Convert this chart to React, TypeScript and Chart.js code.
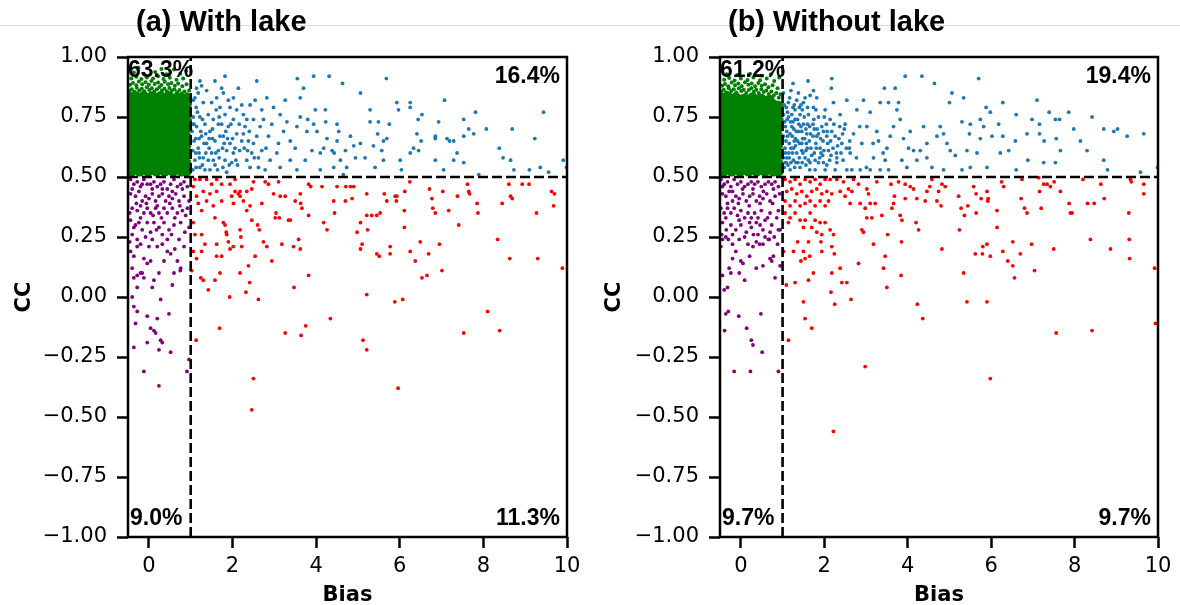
import React, { useEffect, useRef } from 'react';
import { Chart, registerables } from 'chart.js';

Chart.register(...registerables);

type P = [number, number];

const xTicks = [0, 2, 4, 6, 8, 10];
const yTicks = [-1, -0.75, -0.5, -0.25, 0, 0.25, 0.5, 0.75, 1];
const xMin = -0.5;
const xMax = 10;
const yMin = -1;
const yMax = 1;
const biasThreshold = 1;
const ccThreshold = 0.5;

const titles = ['(a) With lake', '(b) Without lake'];
// order: top-left, top-right, bottom-left, bottom-right
const pctA = ['63.3%', '16.4%', '9.0%', '11.3%'];
const pctB = ['61.2%', '19.4%', '9.7%', '9.7%'];

// ---------- Panel (a): With lake ----------
const greenCoreA: P[] = [
  [-0.42, 0.525], [-0.22, 0.525], [-0.02, 0.525], [0.18, 0.525], [0.38, 0.525], [0.58, 0.525], [0.78, 0.525], [0.9, 0.525],
  [-0.48, 0.56], [-0.32, 0.56], [-0.12, 0.56], [0.08, 0.56], [0.28, 0.56], [0.48, 0.56], [0.68, 0.56], [0.88, 0.56],
  [-0.42, 0.595], [-0.22, 0.595], [-0.02, 0.595], [0.18, 0.595], [0.38, 0.595], [0.58, 0.595], [0.78, 0.595], [0.9, 0.595],
  [-0.48, 0.63], [-0.32, 0.63], [-0.12, 0.63], [0.08, 0.63], [0.28, 0.63], [0.48, 0.63], [0.68, 0.63], [0.88, 0.63],
  [-0.42, 0.665], [-0.22, 0.665], [-0.02, 0.665], [0.18, 0.665], [0.38, 0.665], [0.58, 0.665], [0.78, 0.665], [0.9, 0.665],
  [-0.48, 0.7], [-0.32, 0.7], [-0.12, 0.7], [0.08, 0.7], [0.28, 0.7], [0.48, 0.7], [0.68, 0.7], [0.88, 0.7],
  [-0.42, 0.735], [-0.22, 0.735], [-0.02, 0.735], [0.18, 0.735], [0.38, 0.735], [0.58, 0.735], [0.78, 0.735], [0.9, 0.735],
  [-0.48, 0.77], [-0.32, 0.77], [-0.12, 0.77], [0.08, 0.77], [0.28, 0.77], [0.48, 0.77], [0.68, 0.77], [0.88, 0.77],
  [-0.42, 0.805], [-0.22, 0.805], [-0.02, 0.805], [0.18, 0.805], [0.38, 0.805], [0.58, 0.805], [0.78, 0.805], [0.9, 0.805],
  [-0.48, 0.835], [-0.32, 0.835], [-0.12, 0.835], [0.08, 0.835], [0.28, 0.835], [0.48, 0.835], [0.68, 0.83], [0.88, 0.825],
];
const greenEdgeA: P[] = [
  [-0.47, 0.858], [-0.41, 0.866], [-0.35, 0.855], [-0.29, 0.872], [-0.23, 0.86], [-0.17, 0.868], [-0.11, 0.857], [-0.05, 0.874],
  [0.01, 0.862], [0.07, 0.87], [0.13, 0.856], [0.19, 0.866], [0.25, 0.875], [0.31, 0.86], [0.37, 0.868], [0.43, 0.857],
  [0.49, 0.871], [0.55, 0.86], [0.61, 0.866], [0.67, 0.853], [0.73, 0.862], [0.79, 0.848], [0.85, 0.856], [0.92, 0.845],
  [0.96, 0.86],
  [-0.45, 0.884], [-0.38, 0.892], [-0.3, 0.882], [-0.24, 0.898], [-0.16, 0.886], [-0.08, 0.895], [0.0, 0.884], [0.06, 0.9],
  [0.14, 0.888], [0.22, 0.894], [0.3, 0.883], [0.38, 0.897], [0.46, 0.886], [0.54, 0.892], [0.62, 0.88], [0.7, 0.89],
  [0.8, 0.878], [0.9, 0.886],
  [-0.42, 0.91], [-0.3, 0.918], [-0.18, 0.908], [-0.05, 0.915], [0.1, 0.91], [0.22, 0.92], [0.35, 0.908], [0.5, 0.914],
  [0.66, 0.905], [0.82, 0.91],
  [-0.36, 0.935], [-0.12, 0.93], [0.15, 0.938], [0.42, 0.928], [0.75, 0.93], [0.89, 0.942],
  [-0.25, 0.955], [0.3, 0.95], [0.6, 0.948],
];
const blueA: P[] = [
  [1.82, 0.92], [1.58, 0.9], [1.22, 0.9], [2.58, 0.9], [3.55, 0.91], [3.94, 0.92], [4.31, 0.92], [4.63, 0.89], [5.68, 0.91],
  [5.06, 0.85], [3.7, 0.87], [3.62, 0.83], [5.93, 0.81], [6.25, 0.81], [6.25, 0.79], [5.97, 0.78], [7.07, 0.82], [7.81, 0.77],
  [9.44, 0.77], [5.29, 0.78], [5.29, 0.73], [5.49, 0.73], [5.75, 0.72], [6.53, 0.76], [6.44, 0.74], [6.93, 0.73], [7.53, 0.74],
  [7.65, 0.7], [8.07, 0.7], [7.77, 0.68], [8.69, 0.7], [9.23, 0.66], [8.38, 0.62], [8.47, 0.58], [8.65, 0.57], [8.73, 0.53],
  [9.1, 0.53], [9.36, 0.54], [9.56, 0.52], [9.91, 0.57], [9.99, 0.54], [7.19, 0.65], [7.29, 0.65], [7.37, 0.6], [7.13, 0.66],
  [6.85, 0.67], [6.85, 0.66], [6.85, 0.57], [7.29, 0.57], [7.53, 0.67], [7.53, 0.56], [7.05, 0.53], [7.89, 0.51], [6.51, 0.65],
  [6.41, 0.68], [6.33, 0.62], [6.45, 0.61], [6.25, 0.6], [6.01, 0.57], [6.04, 0.53], [5.69, 0.66], [5.61, 0.65], [5.57, 0.61],
  [5.61, 0.57], [5.47, 0.68], [5.37, 0.63], [5.41, 0.54], [5.17, 0.58], [5.06, 0.64], [4.9, 0.63], [4.82, 0.67], [4.94, 0.58],
  [4.7, 0.61], [4.54, 0.69], [4.5, 0.65], [4.43, 0.6], [4.38, 0.61], [4.26, 0.66], [4.23, 0.73], [4.22, 0.78], [4.5, 0.72],
  [4.58, 0.57], [4.65, 0.51], [4.73, 0.54], [4.42, 0.54], [4.1, 0.6], [4.02, 0.69], [3.98, 0.78], [3.94, 0.72], [3.9, 0.61],
  [3.78, 0.69], [3.8, 0.74], [3.62, 0.75], [3.54, 0.71], [3.5, 0.62], [3.38, 0.65], [3.26, 0.82], [3.3, 0.73], [3.38, 0.57],
  [3.22, 0.69], [3.14, 0.76], [3.1, 0.64], [3.06, 0.6], [2.98, 0.79], [2.94, 0.72], [2.86, 0.67], [2.9, 0.57], [2.82, 0.83],
  [2.7, 0.78], [2.66, 0.71], [2.7, 0.61], [2.62, 0.54], [2.54, 0.82], [2.5, 0.74], [2.42, 0.8], [2.38, 0.65], [2.34, 0.57],
  [2.3, 0.71], [2.26, 0.76], [2.17, 0.61], [2.14, 0.87], [2.1, 0.68], [2.02, 0.83], [2.02, 0.74], [1.98, 0.56], [1.94, 0.64],
  [1.94, 0.79], [1.9, 0.71], [1.86, 0.61], [1.82, 0.76], [1.78, 0.85], [1.78, 0.67], [1.77, 0.54], [1.7, 0.79], [1.66, 0.72],
  [1.66, 0.61], [1.62, 0.83], [1.58, 0.65], [1.54, 0.74], [1.54, 0.57], [1.5, 0.81], [1.46, 0.69], [1.46, 0.53], [1.42, 0.76],
  [1.38, 0.64], [1.38, 0.86], [1.34, 0.72], [1.3, 0.81], [1.3, 0.58], [1.26, 0.67], [1.22, 0.75], [1.22, 0.54], [1.18, 0.85],
  [1.18, 0.62], [1.14, 0.71], [1.13, 0.79], [1.1, 0.57], [1.08, 0.65], [1.06, 0.75], [1.06, 0.82], [1.05, 0.53], [1.05, 0.61],
  [1.03, 0.69], [1.14, 0.87], [1.26, 0.88], [1.74, 0.87], [1.16, 0.77], [1.24, 0.69], [1.32, 0.64], [1.42, 0.57], [1.5, 0.6],
  [1.61, 0.78], [1.7, 0.67], [1.82, 0.57], [1.9, 0.82], [2.02, 0.6], [2.1, 0.78], [2.22, 0.65], [2.34, 0.74], [2.46, 0.6],
  [2.58, 0.67], [2.74, 0.74], [2.22, 0.8], [2.42, 0.54], [2.78, 0.53], [3.14, 0.54], [3.54, 0.53], [3.74, 0.57], [4.1, 0.53],
  [4.18, 0.62], [1.21, 0.58], [1.13, 0.54], [1.1, 0.83], [1.34, 0.53], [1.64, 0.53], [1.86, 0.52],
  [1.08, 0.72], [1.12, 0.6], [1.2, 0.66], [1.28, 0.74], [1.36, 0.6], [1.44, 0.66], [1.52, 0.7], [1.6, 0.6], [1.68, 0.75],
  [1.76, 0.62], [1.84, 0.69], [1.92, 0.55], [2.0, 0.66], [2.08, 0.57], [2.16, 0.72], [2.28, 0.62], [2.4, 0.69], [2.52, 0.58],
  [1.05, 0.72], [1.12, 0.66], [1.2, 0.6], [1.28, 0.55], [1.36, 0.68], [1.44, 0.62], [1.52, 0.66], [1.58, 0.55], [1.68, 0.58],
  [1.74, 0.72], [1.8, 0.64], [1.88, 0.66], [1.96, 0.72], [2.06, 0.62], [2.12, 0.55], [2.26, 0.68], [2.36, 0.61], [2.5, 0.64],
  [2.62, 0.58], [2.8, 0.62],
];
const redA: P[] = [
  [1.1, 0.49], [1.22, 0.49], [1.38, 0.49], [1.5, 0.47], [1.62, 0.49], [1.74, 0.47], [1.94, 0.47], [2.06, 0.49], [2.18, 0.44],
  [2.34, 0.44], [2.46, 0.45], [2.5, 0.48], [2.7, 0.39], [2.78, 0.48], [2.86, 0.47], [2.98, 0.43], [3.1, 0.48], [3.14, 0.42],
  [3.26, 0.42], [3.38, 0.32], [3.5, 0.4], [3.62, 0.43], [3.63, 0.39], [3.66, 0.37], [3.82, 0.47], [3.87, 0.46], [3.82, 0.34],
  [4.14, 0.46], [4.18, 0.31], [4.26, 0.28], [4.42, 0.4], [4.44, 0.35], [4.5, 0.46], [4.7, 0.4], [4.71, 0.46], [4.82, 0.46],
  [4.86, 0.41], [4.9, 0.46], [4.98, 0.27], [5.06, 0.31], [5.1, 0.22], [5.06, 0.2], [5.21, 0.43], [5.21, 0.34], [5.23, 0.28],
  [5.33, 0.34], [5.45, 0.34], [5.53, 0.35], [5.45, 0.18], [5.51, 0.17], [5.63, 0.43], [5.69, 0.4], [5.77, 0.21], [5.77, 0.18],
  [5.89, 0.42], [5.92, 0.4], [5.93, 0.42], [6.11, 0.36], [6.11, 0.29], [6.12, 0.44], [6.24, 0.48], [6.25, 0.19], [6.37, 0.15],
  [6.49, 0.23], [6.53, 0.08], [6.65, 0.09], [6.69, 0.18], [6.71, 0.45], [6.77, 0.41], [6.79, 0.37], [6.85, 0.35], [6.95, 0.22],
  [7.01, 0.11], [7.03, 0.44], [7.17, 0.36], [7.41, 0.3], [7.38, 0.42], [7.62, 0.47], [7.65, 0.44], [7.67, 0.43], [7.85, 0.39],
  [7.87, 0.35], [8.34, 0.24], [8.45, 0.39], [8.61, 0.47], [8.63, 0.16], [8.65, 0.42], [8.69, 0.41], [8.93, 0.47], [9.09, 0.47],
  [9.27, 0.35], [9.3, 0.16], [9.63, 0.44], [9.7, 0.43], [9.68, 0.38], [9.89, 0.12],
  [1.06, 0.19], [1.26, 0.19], [1.02, 0.11], [1.14, 0.16], [1.24, 0.08], [1.3, 0.07], [1.42, 0.03], [1.58, 0.07], [1.7, 0.1],
  [1.93, 0.0], [2.18, 0.1], [2.32, 0.02], [2.38, 0.13], [2.41, 0.06], [2.62, -0.01], [1.69, -0.13], [1.13, -0.18], [3.26, -0.15],
  [3.47, 0.04], [3.64, -0.16], [3.75, -0.12], [3.82, 0.09], [4.34, -0.09], [5.12, -0.18], [5.21, -0.22], [5.21, 0.01],
  [5.88, -0.02], [6.07, -0.01], [7.53, -0.15], [8.1, -0.06], [8.39, -0.14], [2.5, -0.34], [2.46, -0.47], [5.96, -0.38],
  [1.06, 0.46], [1.14, 0.42], [1.18, 0.39], [1.26, 0.36], [1.3, 0.44], [1.38, 0.4], [1.46, 0.43], [1.54, 0.38], [1.58, 0.33],
  [1.62, 0.44], [1.74, 0.4], [1.78, 0.31], [1.82, 0.3], [1.85, 0.27], [1.86, 0.26], [1.98, 0.42], [2.02, 0.39], [2.06, 0.44],
  [2.14, 0.43], [2.18, 0.42], [2.26, 0.4], [2.34, 0.36], [2.42, 0.38], [2.46, 0.32], [2.54, 0.17], [2.6, 0.3], [2.64, 0.28],
  [2.74, 0.23], [2.82, 0.21], [2.94, 0.15], [3.02, 0.33], [3.04, 0.35], [3.12, 0.33], [3.18, 0.22], [3.34, 0.32], [3.46, 0.21],
  [3.58, 0.24], [3.62, 0.2], [1.06, 0.31], [1.1, 0.26], [1.26, 0.26], [1.34, 0.22], [1.62, 0.22], [1.62, 0.17], [1.74, 0.17],
  [1.9, 0.23], [1.94, 0.2], [2.02, 0.21], [2.18, 0.28], [2.2, 0.25], [2.22, 0.21],
];
const purpleA: P[] = [
  [-0.4, 0.12], [-0.36, 0.08], [-0.28, 0.09], [-0.2, 0.1], [-0.16, 0.1], [-0.12, 0.08], [-0.28, 0.04], [-0.4, 0.0],
  [-0.36, -0.04], [-0.28, -0.06], [-0.32, -0.11], [-0.04, -0.08], [0.04, -0.13], [0.12, -0.14], [0.16, -0.15], [0.2, -0.09],
  [0.28, -0.01], [0.08, 0.04], [0.12, 0.07], [0.24, 0.1], [0.48, -0.07], [0.56, 0.05], [0.6, 0.1], [0.72, 0.24], [0.84, 0.21],
  [0.76, 0.12], [0.75, 0.11], [0.68, 0.15], [0.28, -0.18], [0.32, -0.19], [-0.04, -0.19], [0.24, -0.22], [-0.36, -0.21],
  [0.52, -0.23], [-0.12, -0.31], [0.24, -0.37], [0.91, -0.31], [0.96, -0.26], [-0.44, 0.19], [-0.36, 0.17], [-0.12, 0.16],
  [0.04, 0.15], [-0.04, 0.14], [0.36, 0.15], [0.44, 0.19], [0.52, 0.18], [-0.28, 0.21], [-0.2, 0.22], [0.2, 0.21], [0.32, 0.22],
  [-0.44, 0.49], [-0.36, 0.47], [-0.28, 0.48], [-0.2, 0.46], [-0.12, 0.49], [-0.04, 0.47], [0.04, 0.47], [0.12, 0.48],
  [0.2, 0.46], [0.28, 0.47], [0.36, 0.48], [0.44, 0.45], [0.52, 0.47], [0.6, 0.49], [0.68, 0.46], [0.76, 0.47], [0.84, 0.48],
  [0.92, 0.46], [-0.44, 0.43], [-0.32, 0.42], [-0.24, 0.44], [-0.16, 0.4], [-0.08, 0.42], [0.0, 0.41], [0.08, 0.43],
  [0.16, 0.4], [0.24, 0.42], [0.32, 0.43], [0.4, 0.4], [0.48, 0.42], [0.56, 0.41], [0.64, 0.43], [0.72, 0.4], [0.84, 0.42],
  [-0.4, 0.37], [-0.28, 0.36], [-0.2, 0.38], [-0.12, 0.35], [-0.04, 0.37], [0.04, 0.35], [0.16, 0.37], [0.24, 0.35],
  [0.36, 0.37], [0.44, 0.35], [0.56, 0.37], [0.68, 0.35], [0.8, 0.36], [0.92, 0.37], [-0.44, 0.32], [-0.36, 0.29],
  [-0.24, 0.31], [-0.16, 0.28], [-0.04, 0.31], [0.04, 0.27], [0.12, 0.31], [0.24, 0.29], [0.36, 0.31], [0.48, 0.28],
  [0.6, 0.3], [0.76, 0.31], [0.96, 0.29], [-0.4, 0.26], [-0.28, 0.24], [-0.08, 0.25], [0.08, 0.24], [0.32, 0.26], [0.44, 0.24],
  [0.96, 0.4],
  [-0.4, 0.45], [-0.16, 0.47], [0.08, 0.45], [0.32, 0.45], [0.56, 0.44], [0.8, 0.45], [-0.3, 0.39], [-0.06, 0.39], [0.2, 0.38],
  [0.5, 0.39], [0.74, 0.38], [-0.46, 0.35], [-0.2, 0.33], [0.1, 0.34], [0.3, 0.33], [0.62, 0.33], [0.88, 0.34], [-0.32, 0.3],
  [0.18, 0.28], [0.54, 0.26], [0.86, 0.27], [-0.46, 0.23], [0.0, 0.21], [0.62, 0.2],
];

// ---------- Panel (b): Without lake ----------
const greenCoreB: P[] = [
  [-0.42, 0.525], [-0.22, 0.525], [-0.02, 0.525], [0.18, 0.525], [0.38, 0.525], [0.58, 0.525], [0.78, 0.525], [0.9, 0.525],
  [-0.48, 0.56], [-0.32, 0.56], [-0.12, 0.56], [0.08, 0.56], [0.28, 0.56], [0.48, 0.56], [0.68, 0.56], [0.88, 0.56],
  [-0.42, 0.595], [-0.22, 0.595], [-0.02, 0.595], [0.18, 0.595], [0.38, 0.595], [0.58, 0.595], [0.78, 0.595], [0.9, 0.595],
  [-0.48, 0.63], [-0.32, 0.63], [-0.12, 0.63], [0.08, 0.63], [0.28, 0.63], [0.48, 0.63], [0.68, 0.63], [0.88, 0.63],
  [-0.42, 0.665], [-0.22, 0.665], [-0.02, 0.665], [0.18, 0.665], [0.38, 0.665], [0.58, 0.665], [0.78, 0.665], [0.9, 0.665],
  [-0.48, 0.7], [-0.32, 0.7], [-0.12, 0.7], [0.08, 0.7], [0.28, 0.7], [0.48, 0.7], [0.68, 0.7], [0.88, 0.7],
  [-0.42, 0.735], [-0.22, 0.735], [-0.02, 0.735], [0.18, 0.735], [0.38, 0.735], [0.58, 0.735], [0.78, 0.735], [0.9, 0.735],
  [-0.48, 0.77], [-0.32, 0.77], [-0.12, 0.77], [0.08, 0.77], [0.28, 0.77], [0.48, 0.77], [0.68, 0.77], [0.88, 0.77],
  [-0.42, 0.805], [-0.22, 0.805], [-0.02, 0.805], [0.18, 0.805], [0.38, 0.805], [0.58, 0.805], [0.78, 0.8], [0.9, 0.795],
  [-0.48, 0.83], [-0.32, 0.835], [-0.12, 0.83], [0.08, 0.825], [0.28, 0.83], [0.48, 0.825], [0.68, 0.82],
];
const greenEdgeB: P[] = [
  [-0.47, 0.856], [-0.41, 0.864], [-0.35, 0.852], [-0.29, 0.87], [-0.23, 0.858], [-0.17, 0.866], [-0.11, 0.852], [-0.05, 0.87],
  [0.01, 0.858], [0.07, 0.864], [0.13, 0.85], [0.19, 0.862], [0.25, 0.87], [0.31, 0.855], [0.37, 0.864], [0.43, 0.85],
  [0.49, 0.866], [0.55, 0.854], [0.61, 0.86], [0.67, 0.846], [0.73, 0.856], [0.79, 0.84], [0.85, 0.85], [0.91, 0.83],
  [0.95, 0.845],
  [-0.45, 0.88], [-0.38, 0.888], [-0.3, 0.878], [-0.22, 0.894], [-0.14, 0.882], [-0.06, 0.89], [0.02, 0.878], [0.1, 0.895],
  [0.18, 0.884], [0.26, 0.89], [0.34, 0.878], [0.42, 0.892], [0.5, 0.88], [0.58, 0.886], [0.66, 0.874], [0.76, 0.882],
  [0.88, 0.87],
  [-0.4, 0.905], [-0.28, 0.912], [-0.15, 0.902], [0.0, 0.91], [0.16, 0.904], [0.3, 0.915], [0.46, 0.903], [0.62, 0.91],
  [0.8, 0.9], [0.92, 0.915],
  [-0.34, 0.928], [-0.08, 0.925], [0.22, 0.93], [0.5, 0.922], [0.72, 0.928],
];
const blueB: P[] = [
  [2.18, 0.91], [1.61, 0.9], [1.25, 0.89], [3.94, 0.92], [4.34, 0.92], [4.64, 0.89], [5.7, 0.91], [5.06, 0.85], [3.44, 0.87],
  [3.7, 0.87], [2.17, 0.87], [1.74, 0.86], [1.66, 0.84], [1.82, 0.83], [5.0, 0.81], [5.34, 0.83], [6.28, 0.81], [7.1, 0.82],
  [5.88, 0.79], [5.98, 0.77], [5.3, 0.73], [5.74, 0.74], [6.6, 0.76], [7.39, 0.77], [7.86, 0.77], [8.42, 0.75], [6.98, 0.74],
  [7.16, 0.72], [7.54, 0.74], [7.64, 0.74], [5.82, 0.71], [5.5, 0.72], [6.18, 0.72], [5.48, 0.68], [5.74, 0.66], [6.02, 0.67],
  [6.28, 0.67], [6.58, 0.65], [6.86, 0.68], [7.16, 0.68], [7.27, 0.65], [7.56, 0.66], [7.98, 0.7], [8.14, 0.65], [8.7, 0.7],
  [8.94, 0.69], [9.03, 0.7], [9.26, 0.67], [9.66, 0.68], [8.3, 0.61], [6.88, 0.57], [7.26, 0.56], [7.54, 0.56], [7.66, 0.61],
  [8.7, 0.57], [8.79, 0.53], [9.58, 0.52], [9.99, 0.54], [5.02, 0.61], [5.14, 0.59], [5.42, 0.61], [5.66, 0.6], [5.3, 0.53],
  [5.5, 0.54], [5.9, 0.54], [6.22, 0.6], [6.42, 0.61], [6.6, 0.53], [4.86, 0.68], [4.78, 0.71], [4.7, 0.67], [4.38, 0.71],
  [4.46, 0.64], [4.3, 0.61], [4.14, 0.61], [4.46, 0.58], [4.06, 0.69], [4.02, 0.62], [3.9, 0.66], [3.86, 0.57], [3.82, 0.74],
  [3.74, 0.78], [3.78, 0.81], [3.54, 0.81], [3.66, 0.71], [3.5, 0.62], [3.46, 0.57], [3.54, 0.53], [3.34, 0.81], [3.26, 0.69],
  [3.3, 0.65], [3.18, 0.58], [3.1, 0.77], [3.02, 0.71], [2.94, 0.82], [2.9, 0.64], [2.78, 0.78], [2.7, 0.68], [2.62, 0.6],
  [2.66, 0.53], [2.54, 0.82], [2.5, 0.72], [2.42, 0.64], [2.38, 0.76], [2.3, 0.56], [2.26, 0.67], [2.22, 0.81], [2.14, 0.74],
  [2.1, 0.61], [2.06, 0.67], [2.02, 0.78], [1.98, 0.56], [1.94, 0.71], [1.9, 0.62], [1.86, 0.75], [1.82, 0.67], [1.78, 0.57],
  [1.74, 0.79], [1.73, 0.72], [1.68, 0.62], [1.65, 0.53], [1.62, 0.76], [1.58, 0.68], [1.54, 0.58], [1.5, 0.81], [1.5, 0.72],
  [1.46, 0.64], [1.42, 0.54], [1.42, 0.76], [1.38, 0.69], [1.34, 0.6], [1.34, 0.82], [1.3, 0.74], [1.28, 0.65], [1.26, 0.57],
  [1.25, 0.79], [1.22, 0.71], [1.2, 0.62], [1.18, 0.53], [1.17, 0.83], [1.14, 0.75], [1.12, 0.67], [1.1, 0.58], [1.09, 0.79],
  [1.07, 0.71], [1.06, 0.62], [1.04, 0.54], [1.02, 0.85], [1.02, 0.76], [1.02, 0.67], [1.02, 0.58], [1.14, 0.81], [1.22, 0.76],
  [1.33, 0.69], [1.41, 0.64], [1.49, 0.6], [1.57, 0.64], [1.65, 0.71], [1.73, 0.67], [1.81, 0.62], [1.89, 0.58], [1.97, 0.65],
  [2.05, 0.72], [2.13, 0.57], [2.21, 0.62], [2.29, 0.6], [2.37, 0.71], [2.45, 0.57], [2.53, 0.62], [2.61, 0.65], [2.77, 0.58],
  [2.85, 0.71], [3.01, 0.54], [3.17, 0.64], [3.41, 0.6], [3.58, 0.67], [3.98, 0.54], [4.22, 0.57], [4.58, 0.54], [4.86, 0.53],
  [4.94, 0.64], [1.2, 0.86], [1.38, 0.85], [1.54, 0.83], [1.3, 0.78], [1.46, 0.69], [1.62, 0.57], [1.78, 0.53], [2.02, 0.53],
  [2.26, 0.53], [2.54, 0.53], [2.86, 0.53], [3.1, 0.53], [3.34, 0.53], [1.09, 0.56], [1.15, 0.6], [1.23, 0.67], [1.32, 0.56],
  [1.4, 0.79],
  [1.05, 0.73], [1.08, 0.65], [1.1, 0.69], [1.16, 0.64], [1.19, 0.73], [1.24, 0.6], [1.27, 0.7], [1.31, 0.63], [1.36, 0.74],
  [1.4, 0.58], [1.44, 0.71], [1.48, 0.66], [1.52, 0.75], [1.56, 0.61], [1.6, 0.72], [1.64, 0.65], [1.7, 0.59], [1.76, 0.7],
  [1.8, 0.64], [1.86, 0.68], [1.92, 0.6], [1.98, 0.69], [2.08, 0.64], [2.18, 0.69], [2.32, 0.63], [2.44, 0.68], [1.07, 0.6],
  [1.13, 0.55], [1.2, 0.56], [1.29, 0.54], [1.37, 0.56], [1.47, 0.56], [1.56, 0.55],
  [1.04, 0.8], [1.11, 0.74], [1.18, 0.68], [1.25, 0.73], [1.31, 0.66], [1.39, 0.72], [1.47, 0.78], [1.53, 0.66], [1.59, 0.62],
  [1.67, 0.68], [1.75, 0.74], [1.83, 0.7], [1.91, 0.66], [1.99, 0.61], [2.07, 0.69], [2.15, 0.65], [2.23, 0.72], [2.35, 0.66],
  [2.48, 0.7], [2.6, 0.62], [1.06, 0.56], [1.16, 0.58], [1.26, 0.62], [1.36, 0.65], [1.46, 0.61], [1.56, 0.7], [1.66, 0.56],
  [1.76, 0.6], [1.86, 0.56], [1.96, 0.59], [2.06, 0.55], [2.16, 0.59], [2.3, 0.58], [2.4, 0.6], [1.12, 0.77], [1.28, 0.8],
  [1.44, 0.8], [1.6, 0.79], [1.8, 0.78], [2.0, 0.75],
];
const redB: P[] = [
  [1.06, 0.49], [1.18, 0.48], [1.3, 0.49], [1.42, 0.47], [1.54, 0.49], [1.66, 0.48], [1.78, 0.49], [1.9, 0.47], [2.02, 0.49],
  [2.14, 0.49], [1.1, 0.44], [1.22, 0.45], [1.34, 0.43], [1.46, 0.44], [1.58, 0.42], [1.7, 0.44], [1.82, 0.45], [1.94, 0.43],
  [2.06, 0.44], [2.18, 0.43], [1.06, 0.4], [1.18, 0.38], [1.3, 0.4], [1.42, 0.38], [1.54, 0.39], [1.66, 0.4], [1.78, 0.38],
  [1.9, 0.4], [2.02, 0.38], [2.1, 0.4], [1.06, 0.35], [1.18, 0.33], [1.3, 0.35], [1.42, 0.32], [1.54, 0.32], [1.66, 0.35],
  [1.78, 0.32], [1.9, 0.31], [2.02, 0.31], [2.14, 0.28], [1.14, 0.31], [1.5, 0.29], [1.7, 0.29], [1.82, 0.27], [1.94, 0.26],
  [2.22, 0.26], [1.02, 0.19], [1.26, 0.19], [1.36, 0.23], [1.5, 0.19], [1.54, 0.16], [1.65, 0.17], [1.62, 0.23], [1.44, 0.15],
  [1.92, 0.23], [1.94, 0.19], [2.18, 0.21], [2.24, 0.18], [2.38, 0.12], [1.74, 0.1], [2.18, 0.1], [1.62, 0.07], [1.09, 0.05],
  [1.3, 0.06], [1.5, -0.02], [1.54, -0.09], [1.7, -0.13], [1.14, -0.18], [2.16, 0.02], [2.25, -0.03], [2.42, 0.06], [2.54, 0.06],
  [2.64, -0.01], [2.82, 0.14], [2.98, -0.29], [2.22, -0.56],
  [2.3, 0.49], [2.38, 0.44], [2.46, 0.48], [2.5, 0.42], [2.58, 0.45], [2.62, 0.39], [2.66, 0.44], [2.7, 0.49], [2.82, 0.47],
  [2.86, 0.39], [2.9, 0.28], [2.94, 0.27], [2.98, 0.37], [3.02, 0.33], [3.02, 0.45], [3.06, 0.43], [3.1, 0.39], [3.14, 0.33],
  [3.18, 0.22], [3.22, 0.39], [3.26, 0.48], [3.38, 0.34], [3.42, 0.12], [3.46, 0.17], [3.5, 0.04], [3.52, 0.26], [3.6, 0.47],
  [3.62, 0.37], [3.66, 0.39], [3.68, 0.42], [3.78, 0.48], [3.82, 0.34], [3.86, 0.32], [3.85, 0.23], [3.84, 0.09], [3.94, 0.47],
  [3.94, 0.41], [4.06, 0.46], [4.14, 0.45], [4.2, 0.31], [4.22, 0.41], [4.26, 0.28], [4.23, -0.03], [4.36, -0.09], [4.42, 0.4],
  [4.46, 0.44], [4.53, 0.46], [4.58, 0.49], [4.7, 0.4], [4.74, 0.44], [4.8, 0.38], [4.82, 0.47], [4.82, 0.2], [4.9, 0.46],
  [5.22, 0.42], [5.24, 0.28], [5.28, 0.37], [5.34, 0.1], [5.36, 0.34], [5.42, -0.02], [5.44, 0.38], [5.58, 0.46], [5.62, 0.18],
  [5.64, 0.43], [5.64, 0.35], [5.76, 0.41], [5.8, 0.21], [5.79, 0.18], [5.9, 0.44], [5.9, 0.22], [5.92, 0.4], [5.93, 0.41],
  [5.9, -0.02], [5.98, 0.17], [5.98, -0.34], [6.14, 0.36], [6.14, 0.29], [6.25, 0.48], [6.3, 0.46], [6.28, 0.19], [6.4, 0.15],
  [6.52, 0.23], [6.52, 0.13], [6.56, 0.08], [6.7, 0.18], [6.72, 0.41], [6.74, 0.49], [6.8, 0.37], [6.86, 0.35], [6.97, 0.22],
  [7.04, 0.11], [7.14, 0.497], [7.16, 0.44], [7.2, 0.37], [7.26, 0.47], [7.34, 0.47], [7.42, 0.46], [7.5, 0.2], [7.51, 0.48],
  [7.56, -0.15], [7.66, 0.44], [7.87, 0.39], [7.9, 0.35], [7.94, 0.35], [8.2, 0.49], [8.31, 0.39], [8.38, 0.24], [8.42, -0.14],
  [8.47, 0.39], [8.63, 0.47], [8.71, 0.41], [8.86, 0.2], [9.3, 0.35], [9.31, 0.24], [9.32, 0.16], [9.34, 0.49], [9.36, 0.48],
  [9.66, 0.47], [9.66, 0.43], [9.92, 0.12], [9.94, -0.11],
];
const purpleB: P[] = [
  [-0.44, 0.09], [-0.4, 0.03], [-0.32, 0.04], [-0.28, 0.12], [-0.24, 0.1], [-0.2, 0.16], [-0.04, 0.1], [0.09, 0.07],
  [-0.12, 0.19], [0.0, 0.15], [0.05, 0.14], [0.21, 0.17], [0.29, 0.21], [0.37, 0.12], [0.45, 0.22], [0.53, 0.13], [0.66, 0.24],
  [0.7, 0.16], [0.74, 0.15], [0.78, 0.17], [0.82, 0.08], [0.88, 0.22], [0.94, 0.13], [0.9, 0.28], [-0.36, -0.07], [-0.3, -0.06],
  [-0.05, -0.08], [-0.39, -0.14], [0.14, -0.13], [0.25, -0.18], [0.29, -0.2], [0.51, -0.23], [0.48, -0.07], [-0.16, -0.31],
  [0.23, -0.31], [0.9, -0.31], [-0.48, 0.21], [-0.44, 0.24], [-0.36, 0.25], [-0.2, 0.22], [-0.04, 0.24], [0.17, 0.22],
  [0.37, 0.23], [0.53, 0.22], [0.68, 0.24], [0.8, 0.25],
  [-0.48, 0.49], [-0.4, 0.47], [-0.32, 0.48], [-0.24, 0.46], [-0.16, 0.49], [-0.08, 0.47], [0.0, 0.48], [0.09, 0.46],
  [0.17, 0.47], [0.25, 0.48], [0.33, 0.47], [0.41, 0.48], [0.49, 0.46], [0.58, 0.47], [0.66, 0.48], [0.74, 0.47], [0.82, 0.48],
  [0.9, 0.46], [-0.44, 0.43], [-0.36, 0.42], [-0.28, 0.44], [-0.2, 0.4], [-0.12, 0.42], [-0.04, 0.41], [0.05, 0.43],
  [0.13, 0.4], [0.21, 0.42], [0.29, 0.43], [0.37, 0.4], [0.45, 0.42], [0.53, 0.41], [0.62, 0.43], [0.7, 0.4], [0.82, 0.42],
  [0.93, 0.43], [-0.48, 0.37], [-0.4, 0.35], [-0.32, 0.37], [-0.24, 0.35], [-0.16, 0.37], [-0.08, 0.34], [0.0, 0.36],
  [0.09, 0.33], [0.17, 0.35], [0.25, 0.33], [0.33, 0.35], [0.41, 0.33], [0.49, 0.36], [0.58, 0.32], [0.7, 0.35], [0.86, 0.33],
  [-0.44, 0.31], [-0.35, 0.28], [-0.24, 0.3], [-0.12, 0.28], [0.0, 0.3], [0.13, 0.27], [0.25, 0.29], [0.37, 0.31], [0.53, 0.28],
  [0.74, 0.3], [0.94, 0.28], [-0.46, 0.26], [-0.2, 0.26], [0.09, 0.25], [0.41, 0.26], [0.7, 0.27],
  [-0.44, 0.46], [-0.2, 0.44], [0.04, 0.45], [0.29, 0.45], [0.54, 0.44], [0.78, 0.45], [-0.32, 0.39], [-0.06, 0.39],
  [0.2, 0.38], [0.46, 0.39], [0.76, 0.39], [-0.36, 0.33], [-0.04, 0.32], [0.21, 0.31], [0.46, 0.3], [0.64, 0.33], [0.9, 0.36],
  [-0.3, 0.24], [0.3, 0.26], [0.58, 0.25],
];

const GREEN = '#008000';
const BLUE = '#1f77b4';
const RED = '#ff0000';
const PURPLE = '#800080';

type PanelSpec = {
  left: number; // canvas left on page
  areaLeft: number; // chart area left inside canvas
  areaRight: number; // chart area right inside canvas
  title: string;
  pct: string[];
  greenCore: P[];
  greenEdge: P[];
  blue: P[];
  red: P[];
  purple: P[];
};

const W = 590;
const H = 605;
const AREA_TOP = 57;
const AREA_BOTTOM = 537;

const panels: PanelSpec[] = [
  { left: 0, areaLeft: 128, areaRight: 567, title: titles[0], pct: pctA, greenCore: greenCoreA, greenEdge: greenEdgeA, blue: blueA, red: redA, purple: purpleA },
  { left: 590, areaLeft: 130, areaRight: 568, title: titles[1], pct: pctB, greenCore: greenCoreB, greenEdge: greenEdgeB, blue: blueB, red: redB, purple: purpleB },
];

const toXY = (arr: P[]) => arr.map(([x, y]) => ({ x, y }));

function fmtY(v: number) {
  const s = Math.abs(v).toFixed(2);
  return v < 0 ? '\u2212' + s : s;
}

function makeChart(canvas: HTMLCanvasElement, p: PanelSpec) {
  const pointDs = (data: P[], color: string, r: number, order: number) => ({
    type: 'scatter' as const,
    data: toXY(data),
    backgroundColor: color,
    borderColor: color,
    borderWidth: 0,
    pointRadius: r,
    pointHoverRadius: r,
    order,
  });
  const dashDs = (data: { x: number; y: number }[]) => ({
    type: 'line' as const,
    data,
    borderColor: '#000',
    borderWidth: 2.6,
    borderDash: [10, 4],
    pointRadius: 0,
    showLine: true,
    fill: false,
    order: 0,
  });

  const deco = {
    id: 'deco' + p.left,
    afterDatasetsDraw(chart: any) {
      const { ctx, chartArea } = chart;
      const { left, top, right, bottom } = chartArea;
      ctx.save();
      ctx.strokeStyle = '#000';
      ctx.lineWidth = 2.5;
      ctx.strokeRect(left, top, right - left, bottom - top);
      ctx.fillStyle = '#000';
      ctx.font = 'bold 23px "Liberation Sans", Arial, sans-serif';
      ctx.textBaseline = 'alphabetic';
      ctx.textAlign = 'left';
      ctx.fillText(p.pct[0], left, top + 20);
      ctx.fillText(p.pct[2], left + 2, bottom - 12);
      ctx.textAlign = 'right';
      ctx.fillText(p.pct[1], right - 7, top + 26);
      ctx.fillText(p.pct[3], right - 7, bottom - 12);
      ctx.restore();
    },
    afterDraw(chart: any) {
      const { ctx, chartArea } = chart;
      const { left, top, right, bottom } = chartArea;
      ctx.save();
      ctx.fillStyle = '#000';
      ctx.font = 'bold 29px "Liberation Sans", Arial, sans-serif';
      ctx.textAlign = 'left';
      ctx.textBaseline = 'alphabetic';
      ctx.fillText(p.title, left + 8, 31);
      ctx.font = 'bold 21px "DejaVu Sans", sans-serif';
      ctx.textAlign = 'center';
      ctx.fillText('Bias', (left + right) / 2, 601);
      ctx.translate(25, (top + bottom) / 2);
      ctx.rotate(-Math.PI / 2);
      ctx.textBaseline = 'middle';
      ctx.fillText('CC', 0, 0);
      ctx.restore();
    },
  };

  const tickFont = { family: '"DejaVu Sans", sans-serif', size: 21 };
  const gridOpts = { display: true, drawOnChartArea: false, drawTicks: true, tickLength: 11, tickWidth: 2.5, tickColor: '#000', color: '#000' };

  return new Chart(canvas, {
    type: 'scatter',
    data: {
      datasets: [
        dashDs([{ x: biasThreshold, y: yMin }, { x: biasThreshold, y: yMax }]),
        dashDs([{ x: xMin, y: ccThreshold }, { x: xMax, y: ccThreshold }]),
        pointDs(p.greenEdge, GREEN, 2, 1),
        pointDs(p.greenCore, GREEN, 5.5, 2),
        pointDs(p.blue, BLUE, 1.9, 1),
        pointDs(p.red, RED, 1.9, 1),
        pointDs(p.purple, PURPLE, 1.9, 1),
      ] as any,
    },
    options: {
      animation: false,
      responsive: false,
      maintainAspectRatio: false,
      events: [],
      layout: { padding: { left: 0, top: AREA_TOP, right: W - p.areaRight, bottom: 0 } },
      plugins: { legend: { display: false }, tooltip: { enabled: false }, title: { display: false } },
      scales: {
        x: {
          type: 'linear',
          min: xMin,
          max: xMax,
          afterBuildTicks: (s: any) => { s.ticks = xTicks.map((v) => ({ value: v })); },
          afterFit: (s: any) => { s.height = H - AREA_BOTTOM; },
          ticks: { font: tickFont, color: '#000', padding: 6, maxRotation: 0, callback: (v: any) => String(v) },
          grid: gridOpts,
          border: { display: false },
        },
        y: {
          type: 'linear',
          min: yMin,
          max: yMax,
          afterBuildTicks: (s: any) => { s.ticks = yTicks.map((v) => ({ value: v })); },
          afterFit: (s: any) => { s.width = p.areaLeft; },
          ticks: { font: tickFont, color: '#000', padding: 10, callback: (v: any) => fmtY(Number(v)) },
          grid: gridOpts,
          border: { display: false },
        },
      },
    } as any,
    plugins: [deco],
  });
}

function Panel({ spec }: { spec: PanelSpec }) {
  const ref = useRef<HTMLCanvasElement | null>(null);
  useEffect(() => {
    if (!ref.current) return;
    const c = makeChart(ref.current, spec);
    return () => c.destroy();
  }, [spec]);
  return (
    <canvas
      ref={ref}
      width={W}
      height={H}
      style={{ position: 'absolute', left: spec.left, top: 0, width: W, height: H }}
    />
  );
}

export default function App() {
  return (
    <div style={{ position: 'absolute', left: 0, top: 0, width: 1180, height: 605, background: '#fff', overflow: 'hidden' }}>
      <div style={{ position: 'absolute', left: 0, top: 25, width: 1180, height: 1, background: '#dcdcdc' }} />
      {panels.map((p) => (
        <Panel key={p.left} spec={p} />
      ))}
    </div>
  );
}
